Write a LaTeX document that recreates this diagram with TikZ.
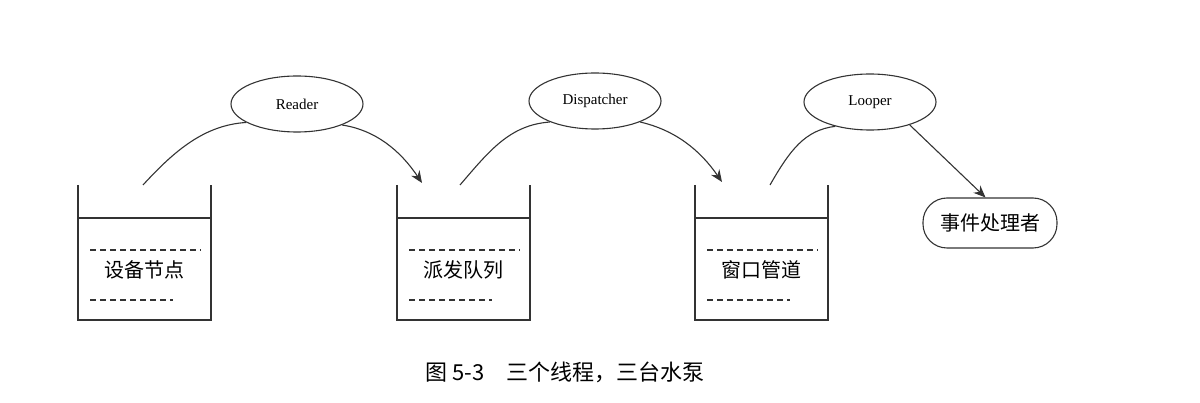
\documentclass[tikz,border=0pt]{standalone}
\usepackage{fontspec}
\setmainfont{Liberation Serif}
\newfontfamily\cjk{Noto Sans CJK SC}
\usetikzlibrary{shapes.geometric,arrows.meta}
\begin{document}
\begin{tikzpicture}[x=1pt,y=-1pt,line width=1.1pt,draw=black!80,
  proc/.style={ellipse,draw,minimum width=132pt,minimum height=56pt,font=\fontsize{15}{15}\selectfont},
  flow/.style={-{Stealth[length=12pt,width=10pt]}},
  dl/.style={dash pattern=on 6pt off 4pt,line width=1.1pt},
  lbl/.style={font=\cjk\fontsize{20}{20}\selectfont}]
\useasboundingbox (0,0) rectangle (1200,403);
\foreach \x/\n/\t in {78/a/设备节点,397/b/派发队列,695/c/窗口管道}{
  \draw (\x,185) -- (\x,320) -- (\x+133,320) -- (\x+133,185);
  \draw (\x,218) -- (\x+133,218);
  \draw[dl] (\x+12,250) -- (\x+123,250);
  \draw[dl] (\x+12,300) -- (\x+95,300);
  \node[lbl] (\n) at (\x+66,270) {\t};
}
\node[proc] (r) at (297,104) {Reader};
\node[proc] (d) at (595,101) {Dispatcher};
\node[proc] (l) at (870,102) {Looper};
\node[draw,rounded corners=24pt,minimum width=134pt,minimum height=50pt,lbl] (e) at (990,223) {事件处理者};
\coordinate (a1) at (143,185); \coordinate (a2) at (422,183);
\coordinate (b1) at (460,185); \coordinate (b2) at (722,182);
\coordinate (c1) at (770,185);
\draw (a1) .. controls (175,150) and (205,125) .. (r.200);
\draw[flow] (r.-25) .. controls (375,130) and (400,150) .. (a2);
\draw (b1) .. controls (490,150) and (510,125) .. (d.205);
\draw[flow] (d.-25) .. controls (675,130) and (700,150) .. (b2);
\draw (c1) .. controls (790,150) and (805,130) .. (l.215);
\draw[flow] (l.-30) -- (e.100);
\node[font=\cjk\fontsize{22}{22}\selectfont] (cap) at (565,372) {图 5-3\quad 三个线程，三台水泵};
\end{tikzpicture}
\end{document}
